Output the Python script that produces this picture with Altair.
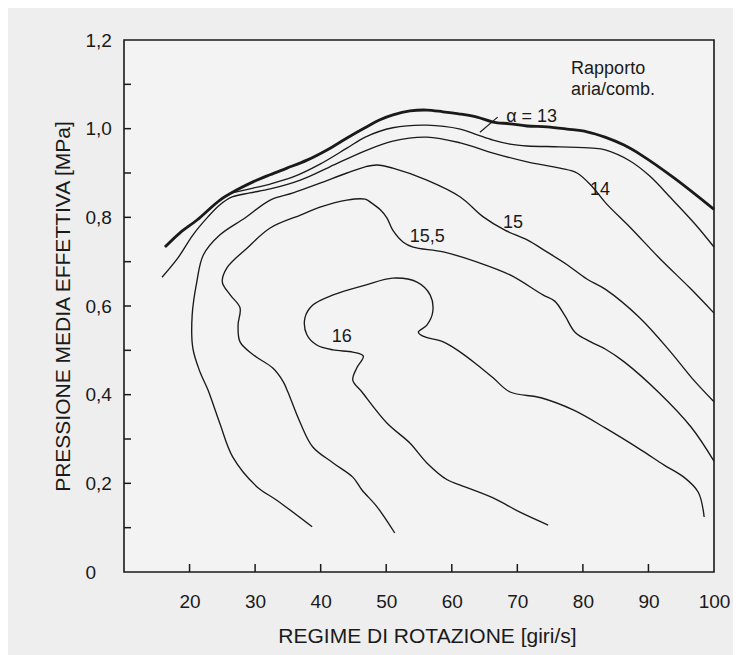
import altair as alt
import pandas as pd

# ---- data: regime [giri/s] vs pressione media effettiva [MPa]
# full-load envelope (thick line)
env_x = [16.25, 18.54, 21.14, 24.64, 27.24, 29.68, 32.27, 34.86, 37.92, 40.97, 44.02, 46.76, 49.05, 51.03,
         53.63, 56.22, 58.66, 61.25, 63.85, 66.29, 68.88, 71.47, 74.52, 77.58, 80.63, 83.37, 86.27, 88.86,
         93.90, 100.0]
env_y = [0.733, 0.765, 0.794, 0.839, 0.862, 0.880, 0.896, 0.911, 0.929, 0.952, 0.979, 1.002, 1.020, 1.031,
         1.040, 1.042, 1.038, 1.033, 1.026, 1.015, 1.011, 1.006, 1.004, 0.999, 0.993, 0.981, 0.963, 0.941,
         0.889, 0.818]

a13_x = [26.5, 29.7, 32.3, 35.8, 39.9, 44.0, 46.8, 51.0, 56.2, 61.3, 63.9, 66.3, 68.9, 71.5, 76.5, 81.5,
         83.4, 87.2, 90.2, 93.4, 97.1, 100.0]
a13_y = [0.855, 0.866, 0.875, 0.891, 0.920, 0.956, 0.981, 1.002, 1.008, 0.999, 0.986, 0.974, 0.965, 0.961,
         0.959, 0.956, 0.952, 0.927, 0.893, 0.844, 0.785, 0.733]

a14_x = [15.8, 18.2, 20.5, 22.8, 24.6, 26.5, 29.2, 32.3, 36.9, 41.4, 46.8, 51.0, 56.2, 61.3, 66.3, 71.5,
         76.5, 79.1, 81.5, 83.5, 87.3, 91.8, 96.3, 100.0]
a14_y = [0.665, 0.708, 0.760, 0.801, 0.828, 0.846, 0.855, 0.864, 0.884, 0.914, 0.950, 0.972, 0.981, 0.968,
         0.945, 0.925, 0.911, 0.900, 0.868, 0.832, 0.776, 0.706, 0.641, 0.584]

a15_x = [38.7, 33.3, 30.3, 26.6, 24.6, 22.8, 21.6, 20.5, 20.4, 21.1, 22.1, 24.6, 28.5, 32.3, 35.8, 39.9,
         44.0, 46.8, 48.6, 51.0, 56.2, 61.3, 64.8, 68.1, 71.5, 74.5, 77.6, 80.6, 83.4, 88.7, 93.4, 96.6, 100.0]
a15_y = [0.102, 0.162, 0.192, 0.259, 0.336, 0.411, 0.451, 0.505, 0.580, 0.654, 0.715, 0.760, 0.799, 0.839,
         0.855, 0.877, 0.900, 0.914, 0.918, 0.911, 0.884, 0.846, 0.801, 0.771, 0.749, 0.722, 0.693, 0.661,
         0.638, 0.573, 0.496, 0.438, 0.384]

a155_x = [51.3, 48.6, 46.3, 44.9, 41.9, 38.8, 36.9, 35.0, 34.3, 32.7, 29.7, 27.7, 27.4, 27.7, 26.2, 25.0,
          25.7, 28.8, 32.3, 36.9, 39.9, 44.0, 46.8, 47.8, 49.1, 50.1, 51.0, 52.6, 54.1, 58.7, 63.9, 68.9,
          73.9, 75.7, 77.3, 78.8, 81.2, 83.4, 86.3, 91.5, 96.5, 100.0]
a155_y = [0.088, 0.147, 0.185, 0.214, 0.246, 0.282, 0.336, 0.406, 0.429, 0.460, 0.490, 0.519, 0.557, 0.596,
          0.625, 0.654, 0.686, 0.731, 0.776, 0.805, 0.823, 0.839, 0.841, 0.832, 0.817, 0.799, 0.771, 0.744,
          0.733, 0.722, 0.699, 0.670, 0.625, 0.611, 0.577, 0.541, 0.519, 0.503, 0.474, 0.406, 0.327, 0.250]

a16_x = [74.7, 70.4, 66.3, 61.3, 59.3, 56.2, 53.6, 50.1, 46.3, 44.9, 45.5, 46.5, 44.9, 41.9, 39.4, 37.9,
         37.6, 38.8, 41.9, 46.8, 51.0, 54.7, 56.7, 57.1, 56.2, 54.9, 55.6, 58.7, 61.3, 63.9, 66.3, 68.9,
         73.6, 78.6, 83.4, 88.9, 92.4, 95.4, 97.6, 98.5]
a16_y = [0.106, 0.135, 0.167, 0.196, 0.208, 0.246, 0.291, 0.336, 0.406, 0.433, 0.460, 0.487, 0.496, 0.501,
         0.512, 0.535, 0.573, 0.602, 0.625, 0.647, 0.663, 0.654, 0.625, 0.587, 0.557, 0.541, 0.532, 0.519,
         0.496, 0.467, 0.438, 0.406, 0.393, 0.365, 0.325, 0.275, 0.241, 0.214, 0.180, 0.124]

# curve labels (left edge, baseline)
lab_text = ["α = 13", "14", "15", "15,5", "16"]
lab_x = [68.3, 81.1, 67.8, 53.6, 41.7]
lab_y = [1.015, 0.850, 0.776, 0.744, 0.519]

legend_text = ["Rapporto", "aria/comb."]
legend_x = [78.2, 78.2]
legend_y = [1.123, 1.076]

leader_x = [64.3, 67.0]
leader_y = [0.992, 1.026]

x_ticks = [20, 30, 40, 50, 60, 70, 80, 90]
x_labels = [20, 30, 40, 50, 60, 70, 80, 90, 100]
y_ticks = [0.1, 0.2, 0.3, 0.4, 0.5, 0.6, 0.7, 0.8, 0.9, 1.0, 1.1]
y_labels = [0, 0.2, 0.4, 0.6, 0.8, 1.0, 1.2]

# ---- tables
rows = []
for name, xs_, ys_ in [("13", a13_x, a13_y), ("14", a14_x, a14_y), ("15", a15_x, a15_y),
                       ("15,5", a155_x, a155_y), ("16", a16_x, a16_y)]:
    for i, (xv, yv) in enumerate(zip(xs_, ys_)):
        rows.append({"serie": name, "ord": i, "regime": xv, "pme": yv})
df = pd.DataFrame(rows)
env = pd.DataFrame({"ord": list(range(len(env_x))), "regime": env_x, "pme": env_y})
labs = pd.DataFrame({"txt": lab_text, "regime": lab_x, "pme": lab_y})
leg = pd.DataFrame({"txt": legend_text, "regime": legend_x, "pme": legend_y})
lead = pd.DataFrame({"ord": [0, 1], "regime": leader_x, "pme": leader_y})
xt = pd.DataFrame({"regime": x_ticks})
yt = pd.DataFrame({"pme": y_ticks})

INK = "#1a1a1a"
FONT = "Liberation Sans"
W, H = 590, 532

xs = alt.Scale(domain=[10, 100], nice=False, zero=False)
ys = alt.Scale(domain=[0, 1.2], nice=False, zero=False)

xaxis = alt.Axis(values=x_labels, title="REGIME DI ROTAZIONE [giri/s]", ticks=False, tickSize=0,
                 domain=False, grid=False, labelFontSize=19, labelPadding=20, titleFontSize=21,
                 titlePadding=14, labelFont=FONT, titleFont=FONT, labelColor=INK, titleColor=INK,
                 titleFontWeight="normal", labelFlush=False, titleX=303, titleAnchor="middle")
yaxis = alt.Axis(values=y_labels, title="PRESSIONE MEDIA EFFETTIVA [MPa]", ticks=False, tickSize=0,
                 domain=False, grid=False, labelFontSize=19, labelPadding=39, labelAlign="left",
                 labelExpr="datum.value == 0 ? '0' : replace(format(datum.value, '.1f'), '.', ',')",
                 titleFontSize=21, titlePadding=12, labelFont=FONT, titleFont=FONT,
                 labelColor=INK, titleColor=INK, titleFontWeight="normal", labelFlush=False)


def X():
    return alt.X("regime:Q", scale=xs, axis=xaxis, title="REGIME DI ROTAZIONE [giri/s]")


def Y():
    return alt.Y("pme:Q", scale=ys, axis=yaxis, title="PRESSIONE MEDIA EFFETTIVA [MPa]")


contours = alt.Chart(df).mark_line(color=INK, strokeWidth=1.35, interpolate="catmull-rom").encode(
    x=X(), y=Y(), detail="serie:N", order="ord:Q",
)

envelope = alt.Chart(env).mark_line(color=INK, strokeWidth=2.8, interpolate="catmull-rom").encode(
    x=X(), y=Y(), order="ord:Q",
)

leader = alt.Chart(lead).mark_line(color=INK, strokeWidth=1.2).encode(
    x=X(), y=Y(), order="ord:Q",
)

labels = alt.Chart(labs).mark_text(align="left", baseline="alphabetic", fontSize=18, font=FONT,
                                   color=INK).encode(x=X(), y=Y(), text="txt:N")

legend = alt.Chart(leg).mark_text(align="left", baseline="alphabetic", fontSize=18, font=FONT,
                                  color=INK).encode(x=X(), y=Y(), text="txt:N")

yticks = alt.Chart(yt).mark_rule(color=INK, strokeWidth=1.5).encode(
    y=Y(), x=alt.value(0), x2=alt.value(7),
)
xticks = alt.Chart(xt).mark_rule(color=INK, strokeWidth=1.5).encode(
    x=X(), y=alt.value(H), y2=alt.value(H - 8),
)

chart = alt.layer(contours, envelope, leader, labels, legend, yticks, xticks).properties(
    width=W, height=H,
    autosize=alt.AutoSizeParams(type="none"),
    padding={"left": 116, "top": 32, "right": 19, "bottom": 84},
    background="#eeeeee",
).configure_view(stroke=INK, strokeWidth=1.6, fill="#f3f3f3")

chart.save("out.html", embed_options={"renderer": "svg", "actions": False})
